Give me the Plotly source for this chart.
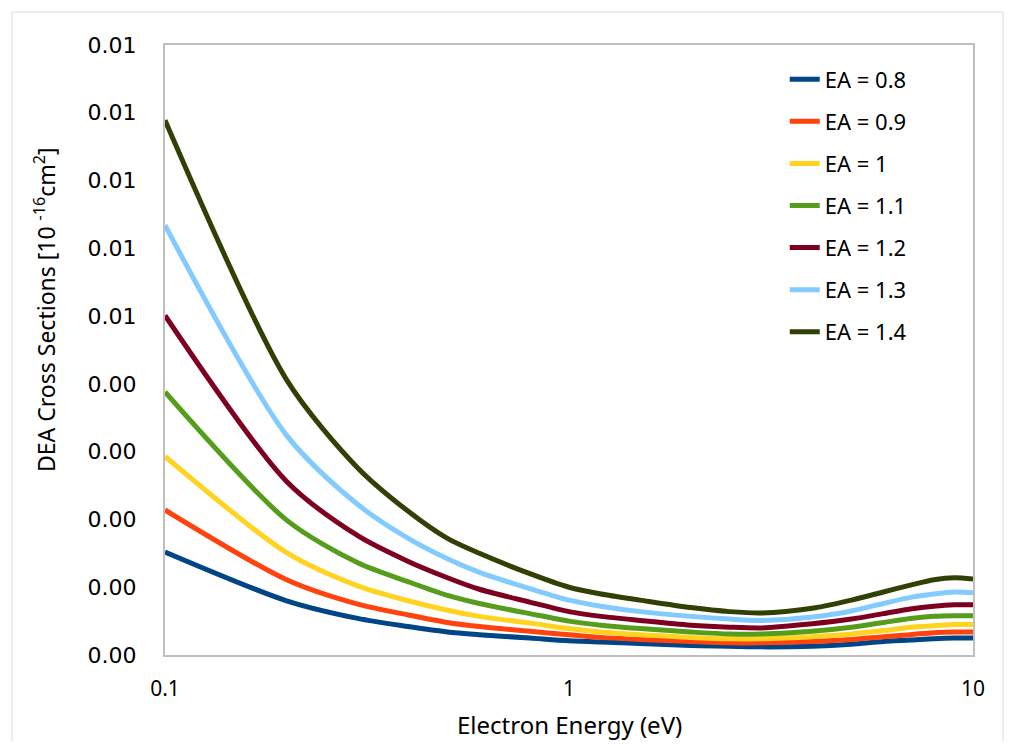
import plotly.graph_objects as go

energy = [0.1, 0.2, 0.3, 0.4, 0.5, 0.6, 0.8, 1.0, 1.2, 1.5, 2, 2.5, 3, 4, 5, 6, 7, 8, 9, 10]

ea_08 = [1.52, 0.80, 0.54, 0.42, 0.34, 0.30, 0.25, 0.21, 0.19, 0.17, 0.14, 0.13, 0.12, 0.13, 0.16, 0.20, 0.22, 0.24, 0.25, 0.25]
ea_09 = [2.14, 1.11, 0.75, 0.59, 0.48, 0.42, 0.35, 0.30, 0.26, 0.23, 0.20, 0.18, 0.18, 0.20, 0.23, 0.27, 0.30, 0.33, 0.34, 0.34]
ea_10 = [2.93, 1.51, 1.02, 0.80, 0.66, 0.57, 0.47, 0.39, 0.34, 0.30, 0.26, 0.24, 0.24, 0.27, 0.31, 0.36, 0.41, 0.43, 0.45, 0.45]
ea_11 = [3.88, 1.99, 1.36, 1.08, 0.88, 0.76, 0.61, 0.50, 0.44, 0.39, 0.34, 0.31, 0.31, 0.35, 0.41, 0.48, 0.54, 0.57, 0.58, 0.58]
ea_12 = [5.01, 2.56, 1.76, 1.38, 1.14, 0.97, 0.78, 0.64, 0.57, 0.51, 0.44, 0.41, 0.40, 0.46, 0.53, 0.61, 0.68, 0.72, 0.74, 0.74]
ea_13 = [6.34, 3.24, 2.22, 1.72, 1.42, 1.22, 0.98, 0.81, 0.72, 0.64, 0.57, 0.53, 0.51, 0.56, 0.65, 0.76, 0.85, 0.90, 0.93, 0.92]
ea_14 = [7.89, 4.06, 2.76, 2.12, 1.72, 1.50, 1.20, 1.00, 0.90, 0.81, 0.70, 0.64, 0.62, 0.69, 0.81, 0.93, 1.03, 1.11, 1.14, 1.12]

series_names = ["EA = 0.8", "EA = 0.9", "EA = 1", "EA = 1.1", "EA = 1.2", "EA = 1.3", "EA = 1.4"]
series_vals = [ea_08, ea_09, ea_10, ea_11, ea_12, ea_13, ea_14]
colors = ["#004586", "#ff420e", "#ffd320", "#579d1c", "#7e0021", "#83caff", "#314004"]

y_tickvals = [0, 0.001, 0.002, 0.003, 0.004, 0.005, 0.006, 0.007, 0.008, 0.009]
y_ticktext = ["0.00", "0.00", "0.00", "0.00", "0.00", "0.01", "0.01", "0.01", "0.01", "0.01"]
x_tickvals = [0.1, 1, 10]
x_ticktext = ["0.1", "1", "10"]

y_title = "DEA Cross Sections [10 <sup>-16</sup>cm<sup>2</sup>]"
x_title = "Electron Energy (eV)"

# page body has an 8px default margin, so figure coordinates are offset by 8px
W, H = 1000, 733
L, T, R_px, B_px = 157, 37, 965, 647
pw, ph = R_px - L, B_px - T

fig = go.Figure()
for i, (name, vals, col) in enumerate(zip(series_names, series_vals, colors)):
    fig.add_trace(go.Scatter(
        x=energy, y=[v * 1e-3 for v in vals], mode="lines", name=name,
        line=dict(color=col, width=5, shape="spline", smoothing=0.8),
        legendgroup=f"g{i}",
    ))

fig.update_layout(
    width=W, height=H,
    margin=dict(l=L, r=W - R_px, t=T, b=H - B_px, autoexpand=False),
    paper_bgcolor="white", plot_bgcolor="white",
    font=dict(family="Noto Sans", color="#000000"),
    showlegend=True,
    legend=dict(
        x=0.767, y=0.978, xanchor="left", yanchor="top",
        font=dict(family="Noto Sans", size=22, color="#000000"),
        tracegroupgap=10.5, bgcolor="rgba(0,0,0,0)", itemwidth=30,
    ),
    xaxis=dict(
        type="log", range=[-1, 1], automargin=False,
        tickvals=x_tickvals, ticktext=x_ticktext,
        showgrid=False, zeroline=False,
        showline=True, linecolor="#bfbfbf", linewidth=2, mirror=True,
        ticks="", ticklabelstandoff=14, tickfont=dict(family="Noto Sans", size=21),
    ),
    yaxis=dict(
        range=[0, 0.009], automargin=False,
        tickvals=y_tickvals, ticktext=y_ticktext,
        showgrid=False, zeroline=False,
        showline=True, linecolor="#bfbfbf", linewidth=2, mirror=True,
        ticks="", ticklabelstandoff=22,
        tickfont=dict(family="DejaVu Sans", size=22),
    ),
    annotations=[
        dict(
            text=y_title, xref="paper", yref="paper",
            x=(37 - L) / pw, y=(B_px - 302) / ph, xanchor="center", yanchor="middle",
            textangle=-90, showarrow=False,
            font=dict(family="Noto Sans", size=23, color="#000000"),
        ),
        dict(
            text=x_title, xref="paper", yref="paper",
            x=0.5, y=(B_px - 717) / ph, xanchor="center", yanchor="middle",
            showarrow=False,
            font=dict(family="Noto Sans", size=24, color="#000000"),
        ),
    ],
    shapes=[dict(
        type="rect", xref="paper", yref="paper",
        x0=(4 - L) / pw, x1=(995 - L) / pw,
        y0=(B_px - 800) / ph, y1=(B_px - 4) / ph,
        line=dict(color="#d9d9d9", width=1), fillcolor="rgba(0,0,0,0)", layer="below",
    )],
)

fig.write_html("out.html")
